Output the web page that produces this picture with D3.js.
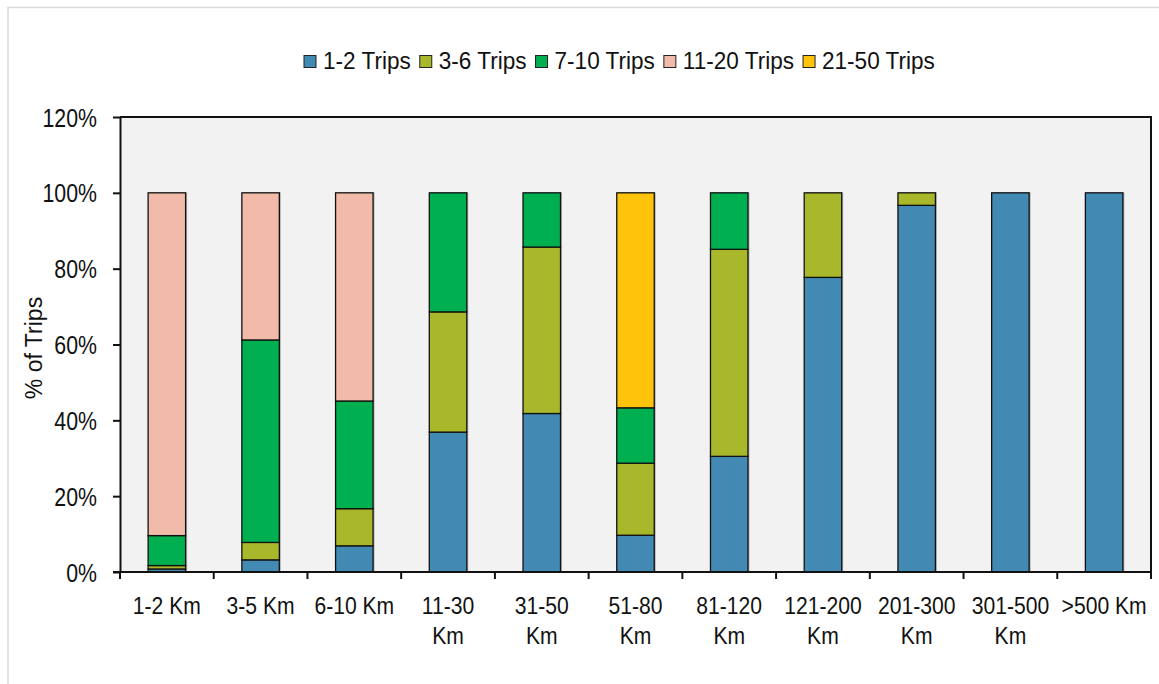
<!DOCTYPE html>
<html>
<head>
<meta charset="utf-8">
<script src="https://cdn.jsdelivr.net/npm/d3@7"></script>
<style>
  html, body { margin: 0; padding: 0; background: #ffffff; }
  svg { display: block; font-family: "Liberation Sans", Arial, sans-serif; }
</style>
</head>
<body>
<svg id="chart" width="1159" height="684"></svg>
<script>
// Distance bands on the x axis
const categories = ["1-2 Km", "3-5 Km", "6-10 Km", "11-30 Km", "31-50 Km", "51-80 Km",
                    "81-120 Km", "121-200 Km", "201-300 Km", "301-500 Km", ">500 Km"];

// Share of trips (%) in each trip-count group, per distance band
const seriesNames = ["1-2 Trips", "3-6 Trips", "7-10 Trips", "11-20 Trips", "21-50 Trips"];
const trips1to2   = [0.8, 3.2, 6.9, 36.9, 41.8, 9.7, 30.5, 77.7, 96.7, 100, 100];
const trips3to6   = [0.9, 4.6, 9.8, 31.7, 43.9, 19.0, 54.6, 22.3, 3.3, 0, 0];
const trips7to10  = [7.9, 53.4, 28.4, 31.4, 14.3, 14.6, 14.9, 0, 0, 0, 0];
const trips11to20 = [90.4, 38.8, 54.9, 0, 0, 0, 0, 0, 0, 0, 0];
const trips21to50 = [0, 0, 0, 0, 0, 56.7, 0, 0, 0, 0, 0];

const yTicks = [0, 20, 40, 60, 80, 100, 120];
const colors = ["#428ab3", "#a8b82a", "#00af50", "#f2bba9", "#ffc30b"];

const seriesValues = [trips1to2, trips3to6, trips7to10, trips11to20, trips21to50];
const rows = categories.map((c, i) => {
  const r = { category: c };
  seriesNames.forEach((s, k) => { r[s] = seriesValues[k][i]; });
  return r;
});
const stacked = d3.stack().keys(seriesNames)(rows);

// squeeze a text element horizontally around its anchor x
function condense(sel, sx) {
  sel.each(function () {
    const ax = +this.getAttribute("x") || 0;
    this.setAttribute("transform",
      `translate(${ax},0) scale(${sx},1) translate(${-ax},0)`);
  });
}

const svg = d3.select("#chart");
const plot = { left: 120, right: 1151, top: 117, bottom: 572 };

// outer frame
svg.append("rect")
  .attr("x", 8).attr("y", 7.5)
  .attr("width", 1170).attr("height", 700)
  .attr("fill", "none").attr("stroke", "#d9d9d9").attr("stroke-width", 1.5);

const x = d3.scaleBand()
  .domain(categories)
  .range([plot.left, plot.right])
  .paddingInner(0.6)
  .paddingOuter(0.3);

const y = d3.scaleLinear()
  .domain([0, 120])
  .range([plot.bottom, plot.top]);

// plot area background
svg.append("rect")
  .attr("x", plot.left).attr("y", plot.top)
  .attr("width", plot.right - plot.left).attr("height", plot.bottom - plot.top)
  .attr("fill", "#f2f2f2");

const segs = d3.merge(stacked.map((layer, i) =>
  layer.map(d => ({ key: layer.key, idx: i, y0: d[0], y1: d[1], cat: d.data.category }))
    .filter(d => d.y1 - d.y0 > 0)));

// faint drop shadow behind each column
svg.append("g").selectAll("rect")
  .data(rows)
  .join("rect")
  .attr("x", d => x(d.category) + 1.5)
  .attr("y", d => y(d3.sum(seriesNames, s => d[s])) - 0.5)
  .attr("width", x.bandwidth())
  .attr("height", d => y(0) - y(d3.sum(seriesNames, s => d[s])) + 0.5)
  .attr("fill", "#7f7f7f")
  .attr("opacity", 0.55);

// stacked segments
svg.append("g").selectAll("rect")
  .data(segs)
  .join("rect")
  .attr("x", d => x(d.cat))
  .attr("y", d => y(d.y1))
  .attr("width", x.bandwidth())
  .attr("height", d => y(d.y0) - y(d.y1))
  .attr("fill", d => colors[d.idx])
  .attr("stroke", "#111")
  .attr("stroke-width", 1.3);

// plot border (top and right)
svg.append("path")
  .attr("d", `M${plot.left},${plot.top}H${plot.right}V${plot.bottom}`)
  .attr("fill", "none").attr("stroke", "#111").attr("stroke-width", 2);

// y axis, with tall narrow tick labels
const yAxis = svg.append("g")
  .attr("transform", `translate(${plot.left},0)`)
  .call(d3.axisLeft(y).tickValues(yTicks).tickSize(7).tickSizeOuter(0)
    .tickFormat(d => d + "%"));
yAxis.select(".domain").attr("stroke", "#111").attr("stroke-width", 2);
yAxis.selectAll(".tick line").attr("stroke", "#111").attr("stroke-width", 2);
yAxis.selectAll(".tick text")
  .attr("x", -23)
  .attr("dy", "0.35em")
  .attr("font-size", 26)
  .attr("fill", "#111")
  .attr("font-family", "Liberation Sans, Arial, sans-serif")
  .call(condense, 0.82);

// x axis line and tick marks between bands
const gap = x.step() - x.bandwidth();
const tickXs = categories.map(c => x(c) - gap / 2).concat([plot.right]);
svg.append("line")
  .attr("x1", plot.left - 7).attr("x2", plot.right)
  .attr("y1", plot.bottom).attr("y2", plot.bottom)
  .attr("stroke", "#111").attr("stroke-width", 2);
svg.append("g").selectAll("line")
  .data(tickXs)
  .join("line")
  .attr("x1", d => d).attr("x2", d => d)
  .attr("y1", plot.bottom).attr("y2", plot.bottom + 7)
  .attr("stroke", "#111").attr("stroke-width", 2);

// x tick labels, wrapped before "Km" when too wide for the band
const xScaleX = 0.88;
const xLabels = svg.append("g").attr("font-size", 24).attr("fill", "#111")
  .attr("text-anchor", "middle");
categories.forEach(c => {
  const cx = x(c) + x.bandwidth() / 2;
  const t = xLabels.append("text").attr("x", cx).attr("y", 614).text(c);
  if (t.node().getComputedTextLength() * xScaleX > 89) {
    const parts = c.split(" ");
    t.text(null);
    t.append("tspan").attr("x", cx).attr("y", 614).text(parts.slice(0, -1).join(" "));
    t.append("tspan").attr("x", cx).attr("y", 644).text(parts[parts.length - 1]);
  }
  condense(t, xScaleX);
});

// y axis title
svg.append("text")
  .attr("transform", "translate(42,348) rotate(-90)")
  .attr("text-anchor", "middle")
  .attr("font-size", 23)
  .attr("fill", "#111")
  .text("% of Trips");

// legend
const legendScaleX = 0.94;
const legend = svg.append("g").attr("font-size", 24).attr("fill", "#111");
let lx = 304;
seriesNames.forEach((s, i) => {
  legend.append("rect")
    .attr("x", lx).attr("y", 55.5)
    .attr("width", 12).attr("height", 12)
    .attr("fill", colors[i]).attr("stroke", "#222").attr("stroke-width", 1);
  const t = legend.append("text").attr("x", lx + 19).attr("y", 69.5).text(s);
  const w = t.node().getComputedTextLength() * legendScaleX;
  condense(t, legendScaleX);
  lx += 19 + w + 9;
});
</script>
</body>
</html>
